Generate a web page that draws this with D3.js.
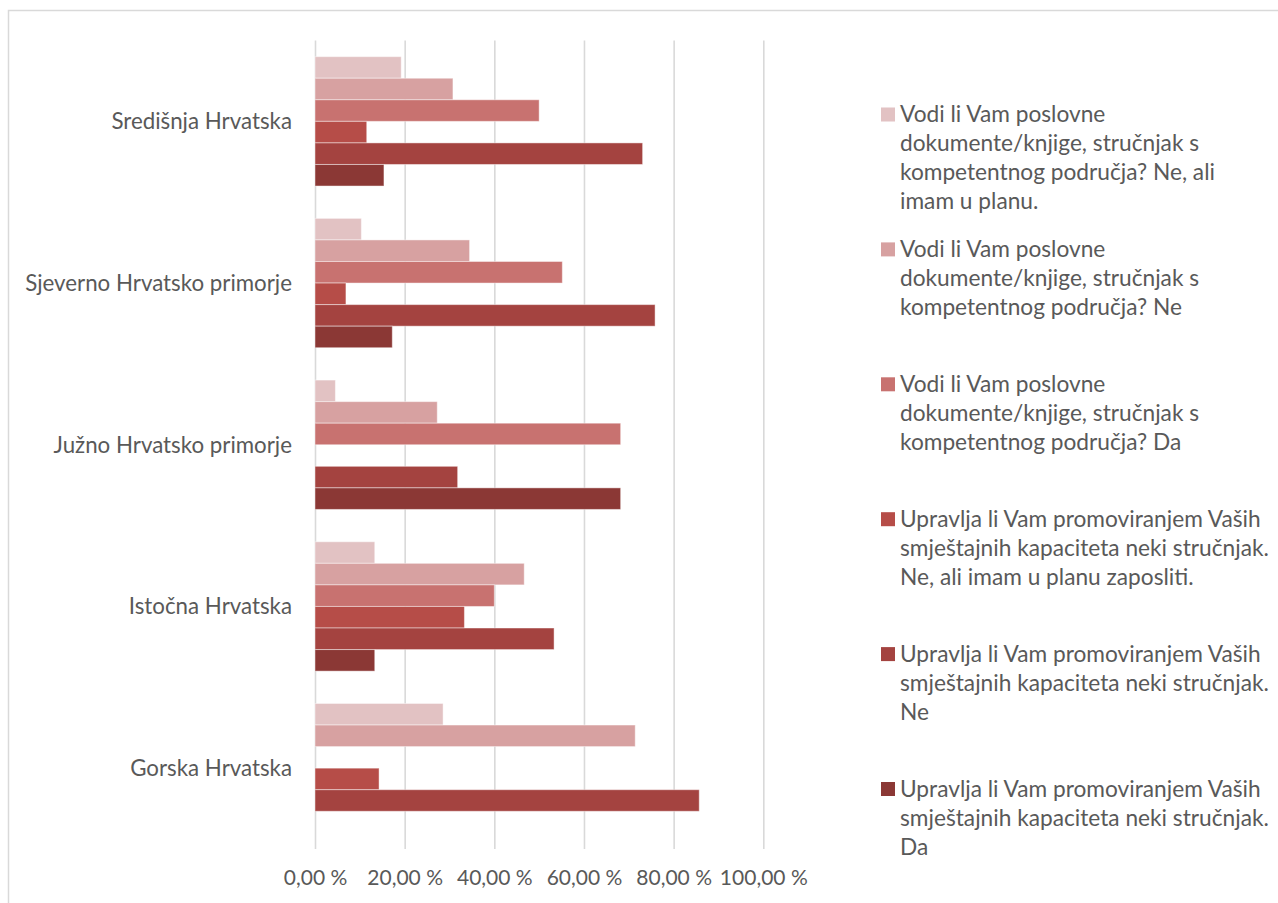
<!DOCTYPE html>
<html>
<head>
<meta charset="utf-8">
<script src="https://cdn.jsdelivr.net/npm/d3@7"></script>
<style>
  html, body { margin: 0; padding: 0; background: #fff; }
  svg { display: block; }
  text { font-family: Lato, "Open Sans", sans-serif; fill: #595959; }
</style>
</head>
<body>
<svg id="chart" width="1278" height="903"></svg>
<script>
// ---- data ----
const categories = ["Središnja Hrvatska", "Sjeverno Hrvatsko primorje", "Južno Hrvatsko primorje", "Istočna Hrvatska", "Gorska Hrvatska"];
const seriesNames = [
  "Vodi li Vam poslovne dokumente/knjige, stručnjak s kompetentnog područja? Ne, ali imam u planu.",
  "Vodi li Vam poslovne dokumente/knjige, stručnjak s kompetentnog područja? Ne",
  "Vodi li Vam poslovne dokumente/knjige, stručnjak s kompetentnog područja? Da",
  "Upravlja li Vam promoviranjem Vaših smještajnih kapaciteta neki stručnjak. Ne, ali imam u planu zaposliti.",
  "Upravlja li Vam promoviranjem Vaših smještajnih kapaciteta neki stručnjak. Ne",
  "Upravlja li Vam promoviranjem Vaših smještajnih kapaciteta neki stručnjak. Da"
];
const legendLines = [
  ["Vodi li Vam poslovne", "dokumente/knjige, stručnjak s", "kompetentnog područja? Ne, ali", "imam u planu."],
  ["Vodi li Vam poslovne", "dokumente/knjige, stručnjak s", "kompetentnog područja? Ne"],
  ["Vodi li Vam poslovne", "dokumente/knjige, stručnjak s", "kompetentnog područja? Da"],
  ["Upravlja li Vam promoviranjem Vaših", "smještajnih kapaciteta neki stručnjak.", "Ne, ali imam u planu zaposliti."],
  ["Upravlja li Vam promoviranjem Vaših", "smještajnih kapaciteta neki stručnjak.", "Ne"],
  ["Upravlja li Vam promoviranjem Vaših", "smještajnih kapaciteta neki stručnjak.", "Da"]
];
const s1 = [19.23, 10.34, 4.55, 13.33, 28.57];
const s2 = [30.77, 34.48, 27.27, 46.67, 71.43];
const s3 = [50.00, 55.17, 68.18, 40.00, 0];
const s4 = [11.54, 6.90, 0, 33.33, 14.29];
const s5 = [73.08, 75.86, 31.82, 53.33, 85.71];
const s6 = [15.38, 17.24, 68.18, 13.33, 0];
const seriesValues = [s1, s2, s3, s4, s5, s6];
const colors = ["#E2C2C3", "#D7A1A1", "#C87270", "#B64D48", "#A44340", "#8B3835"];
const xTicks = [0, 20, 40, 60, 80, 100];

// ---- layout ----
const svg = d3.select("#chart");
const plot = { left: 315, right: 763.3, top: 40.5, bottom: 849 };
const FS_TICK = 21;
const FS_CAT = 22.3;
const FS_LEG = 22.7;

// frame
svg.append("rect")
  .attr("x", 8.5).attr("y", 10.5)
  .attr("width", 1300).attr("height", 1000)
  .attr("fill", "none").attr("stroke", "#d9d9d9").attr("stroke-width", 1.5);

const x = d3.scaleLinear().domain([0, 100]).range([plot.left, plot.right]);
const y = d3.scaleBand().domain(categories).range([plot.top, plot.bottom]).paddingInner(0.2).paddingOuter(0.1);
const yInner = d3.scaleBand().domain(d3.range(seriesValues.length)).range([0, y.bandwidth()]);

// gridlines
svg.append("g")
  .attr("transform", `translate(0,${plot.bottom})`)
  .call(d3.axisBottom(x).tickValues(xTicks).tickSize(-(plot.bottom - plot.top)).tickFormat(""))
  .call(g => g.select(".domain").remove())
  .call(g => g.selectAll("line").attr("stroke", "#d9d9d9").attr("stroke-width", 1.6));

// x axis labels
svg.append("g")
  .attr("transform", `translate(0,${plot.bottom})`)
  .call(d3.axisBottom(x).tickValues(xTicks).tickSize(0).tickPadding(0)
    .tickFormat(d => d3.format(".2f")(d).replace(".", ",") + " %"))
  .call(g => g.select(".domain").remove())
  .call(g => g.selectAll("text")
    .attr("y", 36).attr("dy", null)
    .style("font-family", "Lato, sans-serif").style("font-size", FS_TICK + "px").attr("fill", "#595959"));

// bars
const groups = svg.append("g").selectAll("g")
  .data(categories)
  .join("g")
  .attr("transform", d => `translate(0,${y(d)})`);

groups.selectAll("rect")
  .data((c, ci) => seriesValues.map((vals, si) => ({ si, v: vals[ci] })))
  .join("rect")
  .attr("x", x(0))
  .attr("y", d => yInner(d.si))
  .attr("width", d => x(d.v) - x(0))
  .attr("height", yInner.bandwidth())
  .attr("fill", d => colors[d.si])
  .attr("stroke", d => d.v > 0 ? "rgba(255,255,255,0.45)" : "none")
  .attr("stroke-width", 1);

// category labels
svg.append("g").selectAll("text")
  .data(categories)
  .join("text")
  .attr("x", 292)
  .attr("y", d => y(d) + y.bandwidth() / 2)
  .attr("dy", "0.35em")
  .attr("text-anchor", "end")
  .style("font-size", FS_CAT + "px")
  .text(d => d);

// legend
const legY = d3.scaleLinear().domain([0, seriesNames.length - 1]).range([114.5, 789]);
const leg = svg.append("g").selectAll("g")
  .data(seriesNames)
  .join("g")
  .attr("transform", (d, i) => `translate(881,${legY(i)})`);
leg.append("rect")
  .attr("x", 0).attr("y", -7).attr("width", 14).attr("height", 14)
  .attr("fill", (d, i) => colors[i]);
leg.append("text")
  .style("font-size", FS_LEG + "px")
  .selectAll("tspan")
  .data((d, i) => legendLines[i])
  .join("tspan")
  .attr("x", 19)
  .attr("y", (d, j) => 7.5 + j * 29)
  .text(d => d);
</script>
</body>
</html>
